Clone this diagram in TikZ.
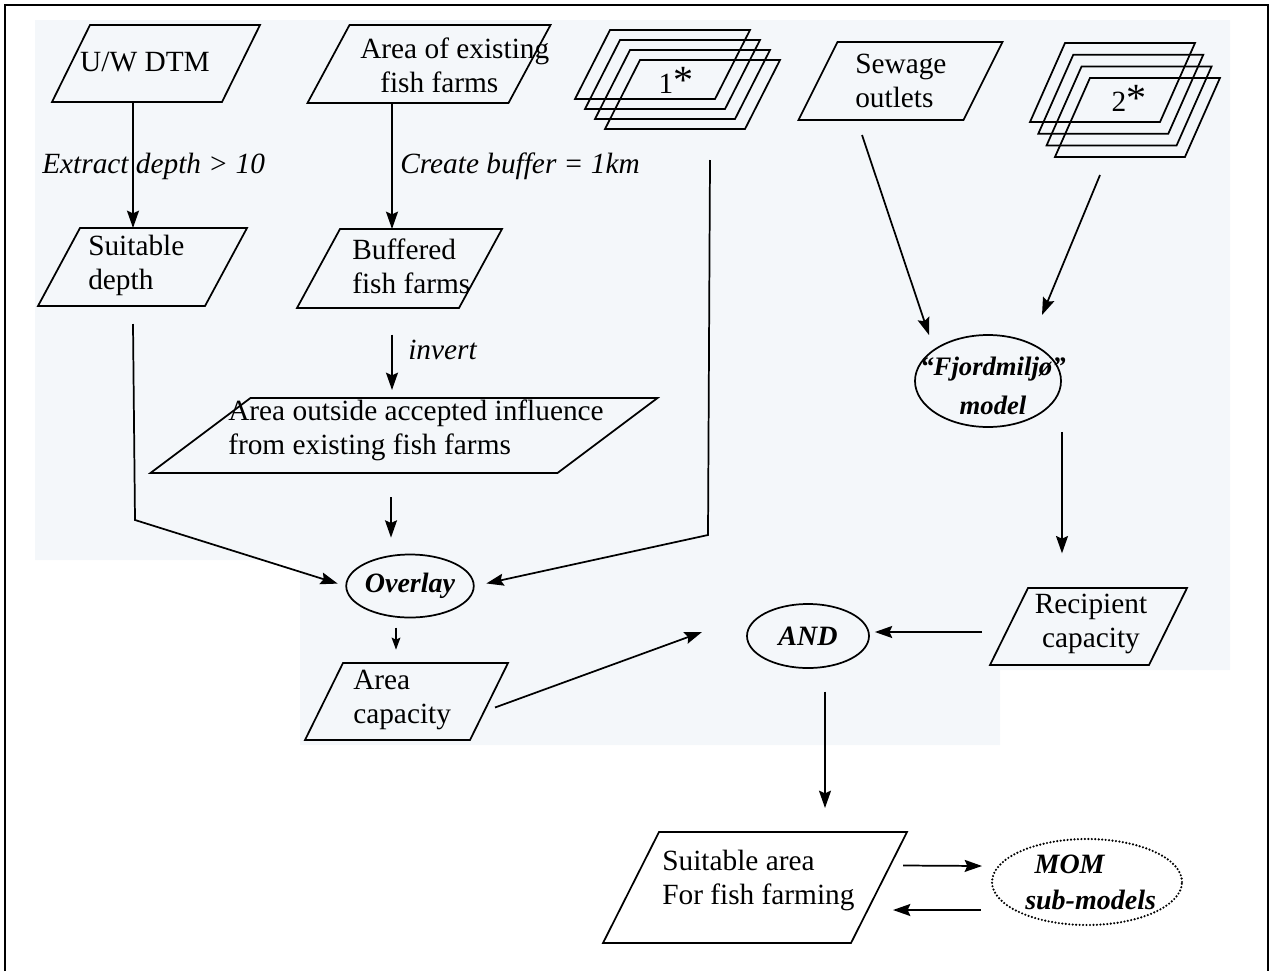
\documentclass[tikz,border=0pt]{standalone}
\usepackage{fontspec}
\setmainfont{Liberation Serif}
\usetikzlibrary{shapes.geometric,arrows.meta}
\definecolor{scantint}{RGB}{244,247,250}
% parallelogram: name, cx, cy, w (top width), h, slant
\newcommand\parabox[6]{%
  \draw[pline] ({#2-#4/2-#6/2},{#3+#5/2}) -- ({#2+#4/2-#6/2},{#3+#5/2})
    -- ({#2+#4/2+#6/2},{#3-#5/2}) -- ({#2-#4/2+#6/2},{#3-#5/2}) -- cycle;
  \node[box, minimum width={#4*0.75pt}, minimum height={#5*0.75pt}] (#1) at (#2,#3) {};}
% stack of four parallelograms: name, cx, cy, w, h, slant, dx, dy
\newcommand\stackbox[8]{%
  \foreach \k in {0,1,2,3}{%
    \draw[pline] ({#2+#7*\k-#4/2-#6/2},{#3+#8*\k+#5/2}) -- ({#2+#7*\k+#4/2-#6/2},{#3+#8*\k+#5/2})
      -- ({#2+#7*\k+#4/2+#6/2},{#3+#8*\k-#5/2}) -- ({#2+#7*\k-#4/2+#6/2},{#3+#8*\k-#5/2}) -- cycle;}
  \node[box, minimum width={(#4+3*#7)*0.75pt}, minimum height={(#5+3*#8)*0.75pt}] (#1) at ({#2+1.5*#7},{#3+1.5*#8}) {};}
\begin{document}
\begin{tikzpicture}[x=0.75pt,y=-0.75pt,line join=miter,
  pline/.style={line width=1.3pt},
  box/.style={inner sep=0pt,outer sep=0pt,draw=none},
  txt/.style={font=\fontsize{22}{25.5}\selectfont,inner sep=0pt},
  lbl/.style={font=\fontsize{22}{25.5}\selectfont\itshape,inner sep=0pt},
  bi/.style={font=\fontsize{21}{27}\selectfont\bfseries\itshape,align=center,inner sep=0pt},
  oval/.style={ellipse,draw,line width=1.3pt,inner sep=0pt},
  dotoval/.style={ellipse,draw,line width=1.8pt,line cap=round,dash pattern=on 0pt off 2.6pt,inner sep=0pt},
  arr/.style={line width=1.3pt,-{Stealth[length=13pt,width=9pt,inset=2pt]}},
  sarr/.style={line width=1.3pt,-{Stealth[length=9pt,width=6.5pt,inset=1.5pt]}}
]
\useasboundingbox (0,0) rectangle (1274,971);
% faint scan tint
\fill[scantint] (35,20) -- (1230,20) -- (1230,670) -- (1000,670) -- (1000,745)
  -- (300,745) -- (300,560) -- (35,560) -- cycle;
% frame
\draw[line width=1.6pt] (5,971) -- (5,5) -- (1268,5) -- (1268,971);

% parallelogram boxes
\parabox{dtm}{156}{63.5}{170}{77}{38}
\parabox{farms}{429}{64}{201}{78}{42}
\parabox{sew}{900.5}{81}{165}{78}{39}
\parabox{sd}{142.5}{267}{167}{78}{42}
\parabox{buf}{399.5}{268.5}{162}{79}{43}
\parabox{out}{404}{435.5}{407}{75}{100}
\parabox{ac}{406.5}{701.5}{165}{77}{38}
\parabox{rc}{1088.5}{626.5}{159}{77}{38}
\parabox{sa}{755}{887.5}{248}{111}{56}

\stackbox{s1}{662.5}{64.5}{140}{69}{35}{10}{10}
\stackbox{s2}{1112.5}{82.5}{130}{79}{35}{8.3}{11.7}

% texts
\node[txt] (dtm-t) at (145,62) {U/W DTM};
\node[txt,anchor=west,align=left] (farms-t) at (360,65) {Area of existing\\\hspace*{15pt}fish farms};
\node[txt,anchor=west,align=left] (sew-t) at (855,81) {Sewage\\outlets};
\node[txt,anchor=west,align=left] (sd-t) at (88,265) {Suitable\\depth};
\node[txt,anchor=west,align=left] (buf-t) at (352,266) {Buffered\\fish farms};
\node[txt,anchor=west,align=left] (out-t) at (228,430) {Area outside accepted influence\\from existing fish farms};
\node[txt,anchor=west,align=left] (ac-t) at (353,700) {Area\\capacity};
\node[txt,align=center] (rc-t) at (1091,624) {Recipient\\capacity};
\node[txt,anchor=west,align=left] (sa-t) at (662,880) {Suitable area\\For fish farming};
\node[txt] (s1-t) at (676,80) {1{\fontsize{30}{30}\selectfont *}};
\node[txt] (s2-t) at (1129,98) {2{\fontsize{30}{30}\selectfont *}};

% ellipses
\node[oval,bi,minimum width=124*0.75pt,minimum height=63*0.75pt] (ov) at (410,586) {Overlay};
\node[oval,bi,minimum width=122*0.75pt,minimum height=64*0.75pt] (and) at (808,636) {AND};
\node[oval,minimum width=146*0.75pt,minimum height=92*0.75pt] (fj) at (988,381) {};
\node[bi,font=\fontsize{20}{29}\selectfont\bfseries\itshape] (fj-t) at (993,386) {“Fjordmiljø”\\model};
\node[dotoval,minimum width=190*0.75pt,minimum height=86*0.75pt] (mom) at (1087,882) {};
\node[bi,align=left,anchor=west] (mom-t) at (1025,882) {\hspace*{7pt}MOM\\sub-models};

% edge labels
\node[lbl,anchor=west] (l1) at (42,166) {Extract depth > 10};
\node[lbl,anchor=west] (l2) at (400,166) {Create buffer = 1km};
\node[lbl,anchor=west] (l3) at (408,350) {invert};

% free-end coordinates
\coordinate (c1) at (135,520);
\coordinate (c2a) at (710,160);
\coordinate (c2) at (708,535);
\coordinate (sw1) at (862,135);
\coordinate (sw2) at (929,335);
\coordinate (t2a) at (1100,175);
\coordinate (t2b) at (1042,315);
\coordinate (and-in) at (702,632);
\coordinate (mom-a) at (982,866);
\coordinate (sa-a) at (893,910);

% connectors
\draw[arr] ([shift={(-23,0)}]dtm.south) -- ([shift={(-9.5,0)}]sd.north);
\draw[arr] ([shift={(-37,0)}]farms.south) -- ([shift={(-7.5,0)}]buf.north);
\draw[arr,shorten <=20pt,shorten >=6pt] ([shift={(-7.5,0)}]buf.south) -- ([shift={(-12,0)}]out.north);
\draw[arr,shorten <=18pt,shorten >=12pt] ([shift={(-13,0)}]out.south) -- ([shift={(-19,0)}]ov.north);
\draw[sarr,shorten <=7pt,shorten >=10pt] ([shift={(-14,0)}]ov.south) -- ([shift={(-10.5,0)}]ac.north);
\draw[arr,shorten >=6pt] ([shift={(-9.5,18)}]sd.south) -- (c1) -- (ov.west);
\draw[arr,shorten >=9pt] (c2a) -- (c2) -- (ov.east);
\draw[arr] ([shift={(6,6)}]ac.east) -- (and-in);
\draw[arr] ([shift={(-27,5.5)}]rc.west) -- ([shift={(5,-4)}]and.east);
\draw[arr,shorten <=3pt,shorten >=26pt] ([shift={(74,0)}]fj.south) -- ([shift={(-26.5,0)}]rc.north);
\draw[arr] (sw1) -- (sw2);
\draw[arr] (t2a) -- (t2b);
\draw[arr,shorten <=17pt,shorten >=18pt] ([shift={(17,0)}]and.south) -- ([shift={(70,0)}]sa.north);
\draw[arr] ([shift={(24,-22)}]sa.east) -- (mom-a);
\draw[arr] ([shift={(-10,28)}]mom.west) -- (sa-a);
\end{tikzpicture}
\end{document}
